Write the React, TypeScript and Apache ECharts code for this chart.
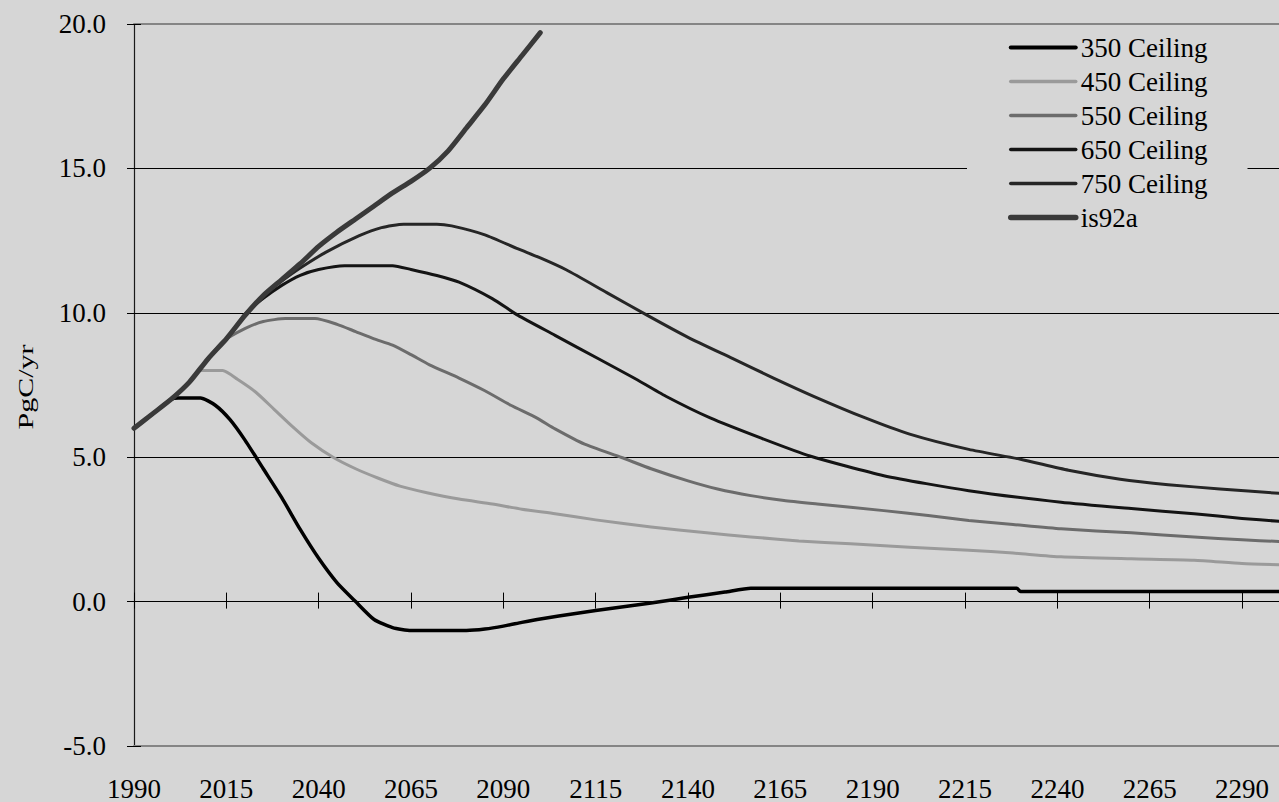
import React, { useEffect, useRef } from "react";
import * as echarts from "echarts";

const BASE_YEAR = 1990;
const X_MAX_OFFSET = 310;
const yTicks = { min: -5, max: 20, interval: 5 };

const seriesNames = ["350 Ceiling", "450 Ceiling", "550 Ceiling", "650 Ceiling", "750 Ceiling", "is92a"];

const s350Years = [1990, 1995, 2000, 2002, 2008, 2012, 2016, 2020, 2025, 2030, 2035, 2040, 2045, 2050, 2055, 2060, 2065, 2080, 2085, 2090, 2095, 2100, 2110, 2120, 2130, 2140, 2150, 2157, 2229, 2230, 2300];
const s350Values = [6.0, 6.5, 7.0, 7.05, 7.05, 6.8, 6.3, 5.6, 4.6, 3.6, 2.5, 1.5, 0.65, 0.0, -0.62, -0.9, -1.0, -1.0, -0.95, -0.85, -0.72, -0.6, -0.4, -0.22, -0.05, 0.15, 0.33, 0.46, 0.46, 0.35, 0.35];

const s450Years = [1990, 1995, 2000, 2005, 2008, 2014, 2018, 2023, 2028, 2033, 2038, 2044, 2050, 2056, 2062, 2069, 2078, 2087, 2095, 2104, 2115, 2130, 2145, 2157, 2170, 2184, 2200, 2216, 2228, 2241, 2260, 2277, 2290, 2300];
const s450Values = [6.0, 6.5, 7.0, 7.6, 8.0, 8.0, 7.7, 7.25, 6.65, 6.05, 5.5, 4.99, 4.6, 4.28, 4.0, 3.78, 3.55, 3.38, 3.2, 3.04, 2.83, 2.58, 2.38, 2.24, 2.1, 2.0, 1.88, 1.78, 1.68, 1.55, 1.48, 1.43, 1.32, 1.28];

const s550Years = [1990, 1995, 2000, 2005, 2010, 2014, 2020, 2025, 2031, 2039, 2045, 2050, 2055, 2060, 2065, 2070, 2078, 2085, 2092, 2099, 2104, 2112, 2122, 2130, 2140, 2148, 2157, 2166, 2175, 2193, 2205, 2216, 2228, 2241, 2260, 2277, 2290, 2300];
const s550Values = [6.0, 6.5, 7.0, 7.6, 8.4, 9.0, 9.45, 9.7, 9.8, 9.8, 9.6, 9.35, 9.1, 8.88, 8.55, 8.2, 7.74, 7.3, 6.8, 6.36, 5.98, 5.45, 4.99, 4.6, 4.18, 3.9, 3.67, 3.5, 3.38, 3.15, 2.98, 2.81, 2.67, 2.52, 2.38, 2.24, 2.14, 2.08];

const s650Years = [1990, 1995, 2000, 2005, 2010, 2015, 2018, 2020, 2025, 2030, 2035, 2040, 2047, 2060, 2065, 2072, 2078, 2087, 2094, 2104, 2116, 2125, 2134, 2146, 2160, 2173, 2193, 2216, 2241, 2260, 2277, 2290, 2300];
const s650Values = [6.0, 6.5, 7.0, 7.6, 8.4, 9.1, 9.6, 9.95, 10.5, 10.95, 11.3, 11.5, 11.63, 11.63, 11.5, 11.29, 11.06, 10.49, 9.91, 9.22, 8.39, 7.77, 7.11, 6.36, 5.65, 5.04, 4.36, 3.84, 3.44, 3.22, 3.04, 2.88, 2.78];

const s750Years = [1990, 1995, 2000, 2005, 2010, 2015, 2020, 2025, 2030, 2035, 2042, 2051, 2057, 2063, 2072, 2076, 2085, 2094, 2100, 2107, 2118, 2129, 2140, 2152, 2163, 2174, 2188, 2200, 2216, 2230, 2243, 2257, 2270, 2284, 2300];
const s750Values = [6.0, 6.5, 7.0, 7.6, 8.4, 9.1, 9.9, 10.6, 11.1, 11.55, 12.1, 12.67, 12.95, 13.07, 13.07, 13.01, 12.7, 12.21, 11.9, 11.49, 10.7, 9.91, 9.15, 8.42, 7.75, 7.11, 6.36, 5.8, 5.27, 4.93, 4.55, 4.24, 4.05, 3.9, 3.75];

const is92aYears = [1990, 1995, 2000, 2005, 2010, 2015, 2020, 2025, 2030, 2035, 2040, 2045, 2050, 2055, 2060, 2065, 2070, 2075, 2080, 2085, 2090, 2095, 2100];
const is92aValues = [6.0, 6.5, 7.0, 7.6, 8.4, 9.1, 9.9, 10.6, 11.15, 11.7, 12.3, 12.8, 13.25, 13.7, 14.15, 14.55, 15.0, 15.6, 16.4, 17.2, 18.1, 18.9, 19.7];

const seriesYears = [s350Years, s450Years, s550Years, s650Years, s750Years, is92aYears];
const seriesValues = [s350Values, s450Values, s550Values, s650Values, s750Values, is92aValues];
const seriesColors = ["#000000", "#9a9a9a", "#6c6c6c", "#141414", "#262626", "#3a3a3a"];
const seriesWidths = [3.5, 3, 3, 3, 3, 5];

const FONT = "'Liberation Serif', serif";
const BG = "#d6d6d6";

export default function App() {
  const ref = useRef<HTMLDivElement>(null);
  useEffect(() => {
    if (!ref.current) return;
    const chart = echarts.init(ref.current, null, { renderer: "svg" });
    const gridTop = 24;
    const gridHeight = 727;
    const gridBottomY = gridTop + gridHeight;
    const zeroY = gridTop + gridHeight * (yTicks.max / (yTicks.max - yTicks.min));
    const xCommon = { type: "value", min: 0, max: X_MAX_OFFSET, interval: 25, splitLine: { show: false } };
    const yCommon = { type: "value", min: yTicks.min, max: yTicks.max, interval: yTicks.interval };
    const series = seriesNames.map((name, i) => ({
      name,
      type: "line",
      symbol: "none",
      showSymbol: false,
      smooth: 0.2,
      xAxisIndex: 0,
      yAxisIndex: 0,
      data: seriesYears[i].map((y, j) => [y - BASE_YEAR, seriesValues[i][j]]),
      lineStyle: { color: seriesColors[i], width: seriesWidths[i], cap: "round", join: "round" },
      itemStyle: { color: seriesColors[i] },
      emphasis: { disabled: true },
    }));
    chart.setOption({
      animation: false,
      backgroundColor: BG,
      textStyle: { fontFamily: FONT },
      grid: { left: 134, top: gridTop, width: 1159, height: gridHeight, containLabel: false },
      xAxis: [
        {
          ...xCommon,
          position: "bottom",
          axisLine: { show: true, onZero: false, lineStyle: { color: "#858585", width: 2 } },
          axisTick: { show: false },
          axisLabel: {
            show: true,
            margin: 29,
            fontSize: 27,
            color: "#000",
            fontFamily: FONT,
            showMaxLabel: false,
            formatter: (v: number) => String(v + BASE_YEAR),
          },
        },
        {
          ...xCommon,
          position: "top",
          axisLine: { show: true, onZero: false, lineStyle: { color: "#858585", width: 2 } },
          axisTick: { show: false },
          axisLabel: { show: false },
        },
        {
          ...xCommon,
          position: "bottom",
          offset: -(gridBottomY - zeroY) - 8,
          axisLine: { show: false, onZero: false },
          axisTick: { show: true, length: 16, lineStyle: { color: "#000", width: 1 } },
          axisLabel: { show: false },
        },
      ],
      yAxis: [
        {
          ...yCommon,
          position: "left",
          axisLine: { show: true, onZero: false, lineStyle: { color: "#1a1a1a", width: 1.2 } },
          axisTick: { show: false },
          axisLabel: {
            margin: 28,
            fontSize: 27,
            color: "#000",
            fontFamily: FONT,
            formatter: (v: number) => v.toFixed(1),
          },
          splitLine: { show: true, showMinLine: false, showMaxLine: false, lineStyle: { color: "#000", width: 1 } },
        },
        {
          ...yCommon,
          position: "left",
          offset: -7,
          axisLine: { show: false, onZero: false },
          axisTick: { show: true, length: 14, lineStyle: { color: "#000", width: 1 } },
          axisLabel: { show: false },
          splitLine: { show: false },
        },
      ],
      legend: {
        show: true,
        orient: "vertical",
        left: 967,
        top: 28,
        padding: [6, 40, 8, 41],
        backgroundColor: BG,
        itemWidth: 65,
        itemHeight: 14,
        itemGap: 7,
        selectedMode: false,
        itemStyle: { opacity: 0 },
        lineStyle: { width: 3, cap: "round" },
        data: seriesNames.map((name, i) => ({
          name,
          itemStyle: { opacity: 0 },
          lineStyle: { width: seriesWidths[i] + 0.5, color: seriesColors[i], cap: "round" },
        })),
        textStyle: { fontSize: 27, lineHeight: 26, color: "#000", fontFamily: FONT },
      },
      graphic: [
        {
          type: "text",
          x: 26,
          y: 387,
          rotation: Math.PI / 2,
          scaleY: 0.68,
          style: {
            text: "PgC/yr",
            font: "30px 'Liberation Serif'",
            fill: "#000",
            align: "center",
            verticalAlign: "middle",
          },
        },
      ],
      series,
    });
    return () => chart.dispose();
  }, []);
  return <div ref={ref} style={{ position: "fixed", left: 0, top: 0, width: 1279, height: 802 }} />;
}
